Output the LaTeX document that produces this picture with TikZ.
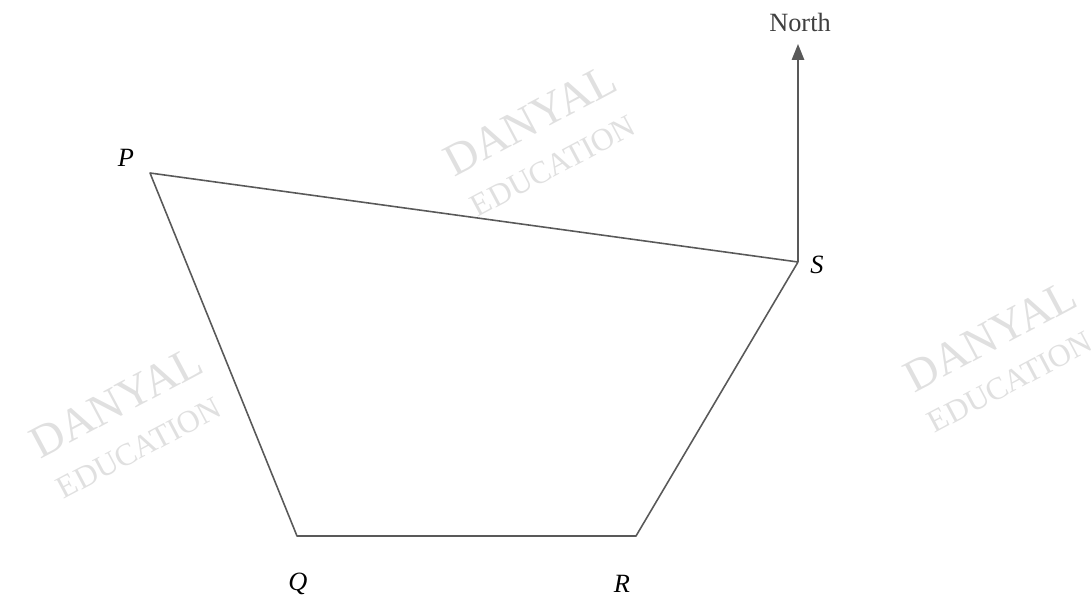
\documentclass[tikz,border=0pt]{standalone}
\usepackage{fontspec}
\setmainfont{Liberation Serif}
\usetikzlibrary{arrows.meta,positioning}

\begin{document}
\begin{tikzpicture}[x=0.02cm,y=-0.02cm,
    side/.style={line width=0.9pt, draw=black!65},
    vlabel/.style={font=\fontsize{15}{18}\selectfont\itshape},
    wmark/.style={text=black!12, rotate=28, inner sep=0pt, font=\fontsize{26}{28}\selectfont},
    wsub/.style={text=black!12, rotate=28, inner sep=0pt, font=\fontsize{18}{20}\selectfont}]
        \useasboundingbox (0,0) rectangle (1091,605);

        % Filigrana
        \node[wmark] (w1a) at (530,120) {DANYAL};
        \node[wsub]  (w1b) at (553,166) {EDUCATION};
        \node[wmark] (w2a) at (116,402) {DANYAL};
        \node[wsub]  (w2b) at (139,448) {EDUCATION};
        \node[wmark] (w3a) at (990,336) {DANYAL};
        \node[wsub]  (w3b) at (1010,382) {EDUCATION};

        % Vertici
        \coordinate (P) at (150,173);
        \coordinate (Q) at (297,536);
        \coordinate (R) at (636,536);
        \coordinate (S) at (798,262);
        \coordinate (N) at (798,44);

        % Quadrilatero
        \draw[side, line join=round] (P) -- (Q) -- (R) -- (S) -- cycle;

        % Nord
        \draw[side, -{Triangle[length=9pt,width=7pt]}] (S) -- (N);
        \node[font=\fontsize{15}{18}\selectfont, text=black!75] (north) at (800,22) {North};

        % Etichette
        \node[vlabel] (lP) at (126,158) {P};
        \node[vlabel] (lQ) at (298,584) {Q};
        \node[vlabel] (lR) at (622,584) {R};
        \node[vlabel] (lS) at (817,265) {S};
    \end{tikzpicture}
\end{document}
